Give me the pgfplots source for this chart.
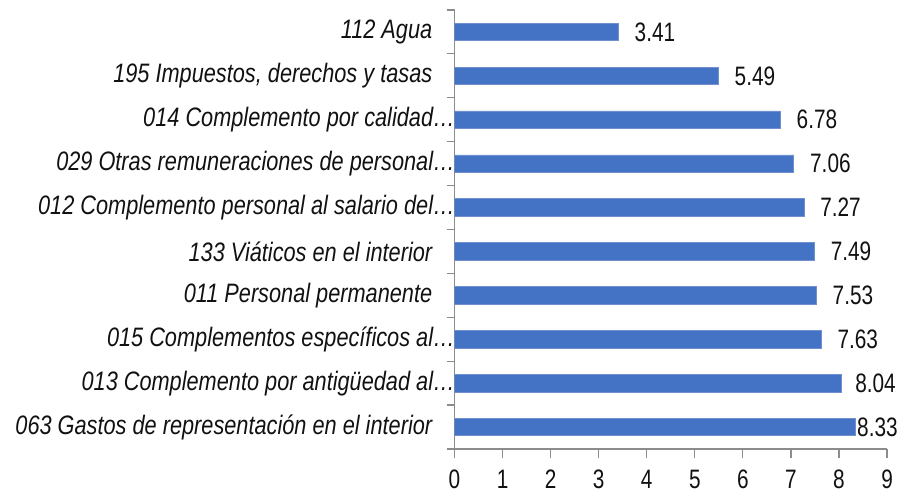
\documentclass[border=0pt]{standalone}
\usepackage{fontspec}
\setmainfont{Liberation Sans}[FakeStretch=0.78, ItalicFeatures={FakeStretch=0.815}]
\usepackage{pgfplots}
\pgfplotsset{compat=1.18}
\usepackage{pgfplotstable}
\definecolor{barblue}{HTML}{4472C4}
\definecolor{baredge}{HTML}{7090D0}
\definecolor{axgray}{HTML}{8C8C8C}
\definecolor{txt}{HTML}{111111}

\pgfplotstableread{
y val sh
0 8.33 1.5
1 8.04 10.5
2 7.63 12
3 7.53 12
4 7.49 12
5 7.27 12
6 7.06 12
7 6.78 12
8 5.49 12
9 3.41 12
}\data

\newcommand{\pad}{\hspace*{17pt}}

\begin{document}
\begin{tikzpicture}
\useasboundingbox (-340.9pt,-33pt) rectangle (337.1pt,336.75pt);
\begin{axis}[
  scale only axis,
  width=324.4pt, height=329.25pt,
  xbar, bar width=0.4,
  xmin=0, xmax=9, ymin=-0.5, ymax=9.5,
  axis x line*=bottom, axis y line*=left,
  axis line style={axgray, line width=0.9pt},
  tick align=outside,
  xtick={0,...,9},
  major x tick style={axgray, line width=0.9pt},
  major tick length=7pt,
  ytick={0,...,9},
  major y tick style={draw=none},
  minor ytick={-0.5,0.5,...,9.5},
  minor y tick style={axgray, line width=0.9pt},
  minor tick length=6pt,
  /pgf/number format/assume math mode=true,
  xticklabel style={anchor=north, inner sep=0pt, yshift=-8.3pt, font=\fontsize{20}{24}\selectfont, text=txt},
  yticklabel style={anchor=east, inner sep=0pt, xshift=7.5pt, font=\fontsize{20}{24}\selectfont\itshape, text=txt},
  yticklabels={
    {063 Gastos de representación en el interior\pad},
    {013 Complemento por antigüedad al…},
    {015 Complementos específicos al…},
    {011 Personal permanente\pad},
    {133 Viáticos en el interior\pad},
    {012 Complemento personal al salario del…},
    {029 Otras remuneraciones de personal…},
    {014 Complemento por calidad…},
    {195 Impuestos, derechos y tasas\pad},
    {112 Agua\pad}
  },
  visualization depends on={\thisrow{sh}\as\sh},
  nodes near coords={\pgfmathprintnumber[fixed,precision=2,fixed zerofill]{\pgfplotspointmeta}},
  point meta=x,
  every node near coord/.append style={anchor=west, inner sep=0pt, xshift=\sh pt, font=\fontsize{20}{24}\selectfont, text=txt},
]
\addplot[fill=barblue, draw=baredge, line width=0.5pt] table[x=val, y=y] {\data};
\end{axis}
\end{tikzpicture}
\end{document}
